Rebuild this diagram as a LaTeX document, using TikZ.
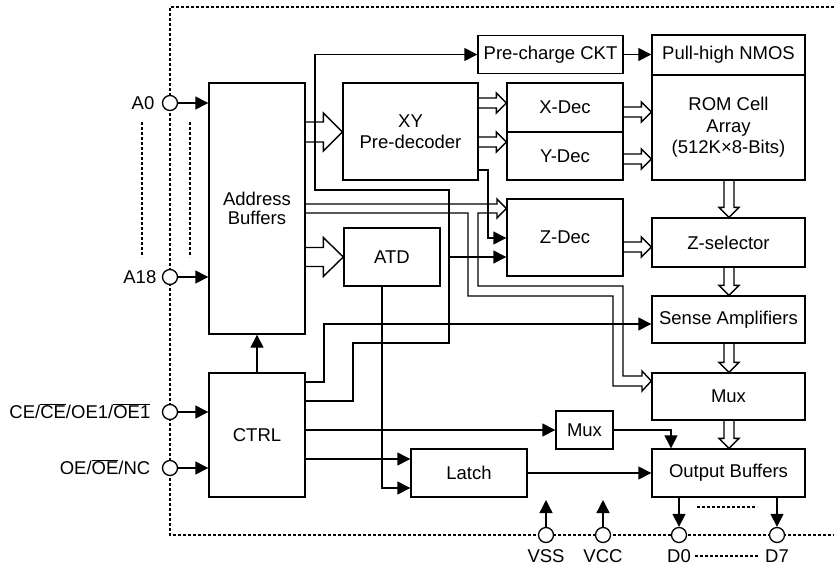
\documentclass[tikz,border=0pt]{standalone}
\usepackage{fontspec}
\setmainfont{Liberation Sans}
\usetikzlibrary{arrows.meta,calc}
\newcommand\ovl[1]{$\overline{\mbox{#1}}$}
% horizontal hollow (bus) arrow: tail point, tip point, shaft half, head half, head length
\newcommand\fatH[5]{\draw[fat] let \p1=#1, \p2=#2 in (\x1,{\y2+#3}) -- ({\x2-#5},{\y2+#3}) -- ({\x2-#5},{\y2+#4}) -- (\x2,\y2) -- ({\x2-#5},{\y2-#4}) -- ({\x2-#5},{\y2-#3}) -- (\x1,{\y2-#3});}
% vertical (downward) hollow arrow
\newcommand\fatV[5]{\draw[fat] let \p1=#1, \p2=#2 in ({\x2-#3},\y1) -- ({\x2-#3},{\y2+#5}) -- ({\x2-#4},{\y2+#5}) -- (\x2,\y2) -- ({\x2+#4},{\y2+#5}) -- ({\x2+#3},{\y2+#5}) -- ({\x2+#3},\y1);}
\begin{document}
\begin{tikzpicture}[x=1pt,y=-1pt,line width=1.4pt,
  txt/.style={font=\fontsize{18.5}{21.5}\selectfont},
  blk/.style={draw,rectangle,inner sep=0pt,align=center,txt},
  pin/.style={draw,circle,fill=white,minimum size=15pt,inner sep=0pt,line width=1.3pt},
  lab/.style={inner sep=0pt,txt},
  arr/.style={-{Triangle[length=13pt,width=13pt]}},
  fat/.style={line join=miter},
  border/.style={line width=1.1pt,dash pattern=on 3pt off 2pt},
  dsh/.style={line width=1.1pt,dash pattern=on 3pt off 2pt}]
\useasboundingbox (0,0) rectangle (834,570);

% dashed chip border
\draw[border] (834,7) -- (170,7) -- (170,535) -- (834,535);
\draw[dsh] (142,122) -- (142,257);
\draw[dsh] (190,122) -- (190,257);

% blocks
\node[blk,minimum width=96pt,minimum height=251pt] (addr) at (257,208.5) {Address\\[-2pt]Buffers};
\node[blk,minimum width=96pt,minimum height=124pt] (ctrl) at (257,435) {CTRL};
\node[blk,minimum width=135pt,minimum height=97pt] (xy) at (410.5,131.5) {XY\\Pre-decoder};
\node[blk,minimum width=145pt,minimum height=38pt] (pre) at (550.5,54.5) {Pre-charge CKT};
\node[blk,minimum width=153pt,minimum height=40pt] (pull) at (728.5,55) {Pull-high NMOS};
\node[blk,minimum width=153pt,minimum height=105pt] (rom) at (728.5,127.5) {ROM Cell\\Array\\(512K×8-Bits)};
\node[blk,minimum width=116pt,minimum height=49pt] (xdec) at (565,107.5) {X-Dec};
\node[blk,minimum width=116pt,minimum height=48pt] (ydec) at (565,156) {Y-Dec};
\node[blk,minimum width=96pt,minimum height=58pt] (atd) at (392,257) {ATD};
\node[blk,minimum width=116pt,minimum height=77pt] (zdec) at (565,237.5) {Z-Dec};
\node[blk,minimum width=153pt,minimum height=49pt] (zsel) at (728.5,242.5) {Z-selector};
\node[blk,minimum width=153pt,minimum height=47pt] (sense) at (728.5,319.5) {Sense Amplifiers};
\node[blk,minimum width=153pt,minimum height=47pt] (mux) at (728.5,396.5) {Mux};
\node[blk,minimum width=153pt,minimum height=48pt] (obuf) at (728.5,473) {Output Buffers};
\node[blk,minimum width=57pt,minimum height=38pt] (smux) at (584.5,430) {Mux};
\node[blk,minimum width=116pt,minimum height=48pt] (latch) at (469,473) {Latch};

% pins
\node[pin] (a0) at (170,103) {};
\node[pin] (a18) at (170,277) {};
\node[pin] (ce) at (170,412) {};
\node[pin] (oe) at (170,468) {};
\node[pin] (vss) at (546,535) {};
\node[pin] (vcc) at (603,535) {};
\node[pin] (d0) at (679,535) {};
\node[pin] (d7) at (777,535) {};

\node[lab,anchor=east] (a0l) at (155,103) {A0};
\node[lab,anchor=east] (a18l) at (157,277) {A18};
\node[lab,anchor=east] (cel) at (151,411) {CE/\ovl{CE}/OE1/\ovl{OE1}};
\node[lab,anchor=east] (oel) at (151,467) {OE/\ovl{OE}/NC};
\node[lab] (vssl) at (546,556) {VSS};
\node[lab] (vccl) at (603,556) {VCC};
\node[lab] (d0l) at (679,556) {D0};
\node[lab] (d7l) at (777,556) {D7};
\draw[dsh] ([xshift=3pt]d0l.east) -- ([xshift=-5pt]d7l.west);

% pin arrows
\draw[arr] (a0.east) -- (a0.east -| addr.west);
\draw[arr] (a18.east) -- (a18.east -| addr.west);
\draw[arr] (ce.east) -- (ce.east -| ctrl.west);
\draw[arr] (oe.east) -- (oe.east -| ctrl.west);
\draw[arr] (vss.north) -- (vss.north |- 0,500);
\draw[arr] (vcc.north) -- (vcc.north |- 0,500);
\draw[arr] (obuf.south -| d0) -- (d0.north);
\draw[arr] (obuf.south -| d7) -- (d7.north);
\draw[dsh] (697,507) -- (757,507);

% control connectors
\draw[arr] (ctrl.north) -- (addr.south);
\draw[arr] (ctrl.east |- 0,401) -- (353,401) -- (353,343) -- (449,343) -- (449,190) -- (315,190) -- (315,0 |- pre.west) -- (pre.west);
\coordinate (j1) at (449,257);
\draw[arr] (j1) -- (zdec.west |- j1);
\draw[arr] (ctrl.east |- 0,382) -- (324,382) -- (324,324) -- (sense.west |- 0,324);
\draw[arr] (xy.east |- 0,170) -- (488,170) -- (488,238) -- (zdec.west |- 0,238);
\draw[arr] (pre.east) -- (pull.west |- pre.east);
\draw[arr] (ctrl.east |- smux.west) -- (smux.west);
\draw[arr] (smux.east) -- (671,0 |- smux.east) -- (671,0 |- obuf.north);
\draw[arr] (ctrl.east |- 0,459) -- (latch.west |- 0,459);
\draw[arr] (382,0 |- atd.south) -- (382,488) -- (latch.west |- 0,488);
\draw[arr] (latch.east) -- (obuf.west |- latch.east);

% hollow bus arrows
\fatH{(addr.east)}{(xy.west |- 0,132)}{10pt}{19pt}{19pt}
\fatH{(addr.east)}{(atd.west)}{9.5pt}{19.5pt}{20pt}
\fatH{(xy.east)}{(xdec.west |- 0,103)}{5pt}{10pt}{10pt}
\fatH{(xy.east)}{(ydec.west |- 0,142)}{5pt}{10pt}{10pt}
\fatH{(xdec.east)}{(rom.west |- 0,112)}{5pt}{10pt}{10pt}
\fatH{(ydec.east)}{(rom.west |- 0,159)}{5pt}{10pt}{10pt}
\fatH{(zdec.east)}{(zsel.west |- 0,247)}{5pt}{10pt}{10pt}
\fatV{(rom.south -| 729,0)}{(zsel.north -| 729,0)}{5pt}{10pt}{10pt}
\fatV{(zsel.south -| 729,0)}{(sense.north -| 729,0)}{5pt}{10pt}{10pt}
\fatV{(sense.south -| 729,0)}{(mux.north -| 729,0)}{5pt}{10pt}{10pt}
\fatV{(mux.south -| 729,0)}{(obuf.north -| 729,0)}{5pt}{10pt}{10pt}
% address bus to Z-Dec, branching to Mux
\draw[fat] (addr.east |- 0,204) -- (497,204) -- (497,199) -- (zdec.west |- 0,208.5) -- (497,218) -- (497,213) -- (478,213)
  -- (478,286) -- (623,286) -- (623,376) -- (642,376) -- (642,371) -- (mux.west |- 0,381) -- (642,391) -- (642,386)
  -- (613,386) -- (613,296) -- (468,296) -- (468,213) -- (addr.east |- 0,213);
\end{tikzpicture}
\end{document}
